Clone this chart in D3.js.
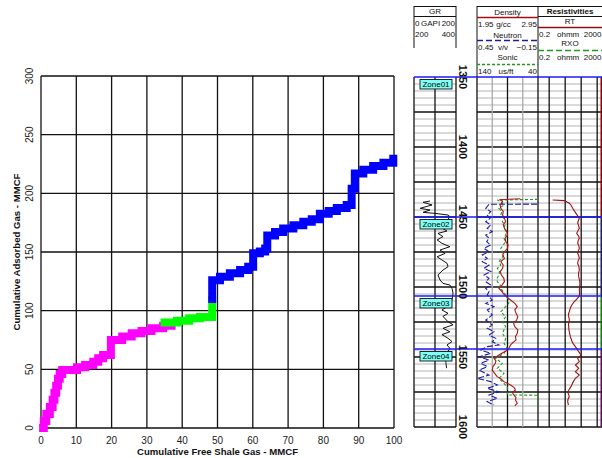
<!DOCTYPE html>
<html>
<head>
<meta charset="utf-8">
<script src="https://cdn.jsdelivr.net/npm/d3@7"></script>
<style>
  html, body { margin: 0; padding: 0; background: #fff; }
  svg { display: block; font-family: "Liberation Sans", Arial, Helvetica, sans-serif; }
</style>
</head>
<body>
<svg id="chart" width="602" height="458"></svg>
<script>
// ---------- Crossplot: cumulative free vs adsorbed gas ----------
const freeTicks = [0, 10, 20, 30, 40, 50, 60, 70, 80, 90, 100];
const adsorbedTicks = [0, 50, 100, 150, 200, 250, 300];

// Three intervals of the cumulative curve
const freeGasUpper = [0.6, 0.8, 1.5, 2.5, 3.3, 3.8, 4.3, 4.8, 5.3, 6.0, 10.2, 12.5, 14.8, 16.2, 17.6, 19.8, 19.8, 23.0, 25.7, 28.5, 31.3, 34.6, 37.0];
const adsorbedGasUpper = [0, 6, 12, 18, 24, 30, 36, 42, 46, 49.4, 51.7, 53.7, 56.5, 59.4, 62.2, 65, 75, 78, 80.7, 82.7, 85, 87.2, 88];

const freeGasMiddle = [35.0, 38.5, 42.0, 45.0, 48.5, 48.5];
const adsorbedGasMiddle = [90, 91.5, 93.5, 94.5, 95, 109];

const freeGasLower = [48.5, 48.5, 50.7, 53.5, 56.4, 58.7, 60.1, 60.1, 62.0, 63.5, 64.1, 64.1, 66.3, 68.6, 71.5, 74.3, 76.7, 79.0, 81.5, 83.8, 86.6, 88.0, 88.0, 88.9, 88.9, 91.3, 94.1, 97.0, 99.8];
const adsorbedGasLower = [110, 126, 129, 131.8, 134.7, 137.5, 141, 149, 150.4, 153, 156, 164, 167, 170, 172.8, 175.7, 178, 182.5, 185, 187.5, 190, 192, 204, 210, 217, 220, 223.3, 226, 229.5];

const segmentColors = ["#ff00ff", "#00ff00", "#0000ff"];

// ---------- Well log panel ----------
const depthTicks = [1350, 1400, 1450, 1500, 1550, 1600];
const zoneNames = ["Zone01", "Zone02", "Zone03", "Zone04"];
const zoneTops = [1350, 1450, 1506.4, 1544.3];
const zoneStripColors = ["#8b0000", "#1e1e5e", "#0b7a0b", "#5e0b5e"];

const grDepth = [1438.6, 1439.5, 1441.4, 1443.8, 1445.0, 1446.7, 1447.4, 1448.6, 1449.8, 1452.0, 1455.7, 1458.0, 1460.0, 1461.7, 1464.0, 1466.4, 1468.8, 1471.2, 1473.6, 1476.0, 1478.4, 1480.7, 1483.0, 1485.5, 1487.9, 1491.4, 1495.0, 1497.4, 1498.6, 1501.0, 1504.5, 1509.0, 1513.0, 1516.4, 1518.8, 1521.0, 1524.8, 1527.0, 1529.5, 1532.0, 1534.0, 1536.6, 1539.0, 1541.4, 1543.8, 1548.6, 1554.0, 1558.0];
const grValue = [76, 43, 86, 29, 76, 43, 100, 162, 171, 160, 150, 133, 157, 114, 138, 110, 133, 171, 124, 148, 110, 133, 157, 162, 138, 114, 124, 138, 171, 181, 186, 181, 171, 133, 162, 138, 162, 186, 138, 171, 133, 162, 181, 157, 171, 150, 152, 155];

const rhobDepth = [1437.0, 1437.6, 1439.0, 1441.5, 1443.8, 1446.0, 1448.6, 1451.0, 1453.3, 1455.5, 1458.1, 1460.5, 1462.9, 1465.2, 1467.6, 1470.0, 1472.4, 1474.8, 1477.1, 1479.5, 1481.9, 1484.3, 1486.7, 1489.0, 1491.4, 1493.8, 1496.2, 1498.6, 1501.0, 1503.3, 1505.7, 1507.5, 1509.3, 1511.7, 1514.0, 1516.4, 1518.8, 1521.2, 1523.6, 1526.0, 1528.3, 1530.7, 1533.0, 1535.5, 1537.9, 1540.0, 1541.4, 1543.2, 1545.0, 1546.8, 1548.6, 1551.0, 1552.8, 1554.5, 1557.0, 1559.3, 1561.7, 1564.0, 1565.8, 1567.6, 1570.0, 1571.8, 1573.6, 1575.3, 1577.0, 1579.0, 1580.7, 1583.0, 1585.0];
const rhobValue = [2.66, 2.33, 2.37, 2.33, 2.34, 2.38, 2.37, 2.40, 2.42, 2.38, 2.40, 2.44, 2.45, 2.41, 2.42, 2.46, 2.45, 2.40, 2.37, 2.40, 2.34, 2.38, 2.37, 2.33, 2.35, 2.39, 2.40, 2.36, 2.31, 2.36, 2.40, 2.45, 2.50, 2.57, 2.61, 2.57, 2.59, 2.62, 2.60, 2.55, 2.57, 2.62, 2.61, 2.58, 2.59, 2.53, 2.50, 2.48, 2.45, 2.38, 2.31, 2.23, 2.26, 2.25, 2.21, 2.20, 2.24, 2.28, 2.35, 2.39, 2.50, 2.56, 2.58, 2.53, 2.55, 2.59, 2.58, 2.61, 2.57];

const nphiDepth = [1440.8, 1440.9, 1443.8, 1446.2, 1448.6, 1451.0, 1453.3, 1455.7, 1458.1, 1460.5, 1462.9, 1465.2, 1467.6, 1470.0, 1472.4, 1474.8, 1477.1, 1479.5, 1481.9, 1484.3, 1486.7, 1489.0, 1491.4, 1493.8, 1496.2, 1498.6, 1501.0, 1503.3, 1505.7, 1508.1, 1509.3, 1511.7, 1514.0, 1516.4, 1520.0, 1523.6, 1527.2, 1529.5, 1531.9, 1534.3, 1536.7, 1539.1, 1541.4, 1542.6, 1545.0, 1547.4, 1549.8, 1552.2, 1554.5, 1556.9, 1559.3, 1562.9, 1565.3, 1567.6, 1570.0, 1572.4, 1574.8, 1577.2, 1579.5, 1581.9, 1584.3];
const nphiValue = [-0.14, 0.332, 0.364, 0.315, 0.349, 0.322, 0.364, 0.315, 0.349, 0.300, 0.364, 0.332, 0.355, 0.315, 0.381, 0.332, 0.398, 0.349, 0.398, 0.332, 0.381, 0.315, 0.381, 0.332, 0.364, 0.315, 0.364, 0.332, 0.349, 0.315, 0.300, 0.364, 0.283, 0.349, 0.300, 0.364, 0.300, 0.349, 0.283, 0.332, 0.266, 0.300, 0.234, 0.349, 0.414, 0.315, 0.430, 0.332, 0.414, 0.349, 0.430, 0.332, 0.447, 0.315, 0.250, 0.349, 0.234, 0.332, 0.250, 0.349, 0.283];

const dtDepth = [1437.4, 1437.9, 1439.1, 1441.4, 1443.8, 1446.2, 1448.6, 1451.0, 1453.3, 1455.7, 1458.1, 1460.5, 1462.9, 1465.2, 1467.6, 1470.0, 1472.4, 1474.8, 1477.1, 1479.5, 1481.9, 1484.3, 1486.7, 1489.0, 1491.4, 1493.8, 1496.2, 1498.6, 1501.0, 1503.3, 1505.7, 1509.3, 1511.7, 1514.0, 1517.6, 1521.2, 1524.8, 1528.3, 1533.1, 1536.7, 1540.3, 1543.8, 1547.4, 1551.0, 1554.5, 1558.1, 1561.7, 1565.3, 1568.8, 1571.7, 1576.0, 1577.1, 1577.3, 1585.8];
const dtValue = [40, 106.7, 101, 95.7, 104, 99.5, 101, 96, 98.5, 94, 95.7, 92, 93, 96, 93, 97, 101, 98, 95.7, 100, 104, 101, 106.7, 103, 104, 107, 106.7, 102, 101, 97, 93, 88, 88, 93, 101, 93, 98.5, 93, 98.5, 93, 95.7, 90.3, 95.7, 109.3, 98.5, 106.7, 95.7, 104, 95.7, 90.3, 90.3, 90.3, 40, 40];

const rtDepth = [1437.9, 1438.3, 1440.2, 1441.4, 1443.8, 1447.4, 1450.9, 1452.7, 1454.5, 1456.3, 1458.1, 1460.0, 1461.7, 1463.5, 1465.2, 1467.0, 1468.8, 1470.6, 1472.4, 1474.2, 1475.9, 1477.7, 1479.5, 1481.3, 1483.1, 1485.5, 1487.9, 1490.2, 1492.6, 1495.0, 1497.4, 1499.8, 1502.1, 1504.3, 1506.4, 1508.5, 1510.5, 1512.3, 1514.0, 1515.8, 1517.6, 1519.4, 1521.2, 1523.0, 1524.8, 1526.5, 1528.3, 1530.1, 1531.9, 1533.7, 1535.5, 1537.3, 1539.0, 1540.8, 1542.6, 1544.4, 1546.2, 1548.6, 1551.0, 1553.3, 1555.7, 1558.1, 1560.5, 1562.9, 1565.2, 1567.6, 1569.4, 1571.2, 1573.0, 1574.8, 1576.5, 1578.3, 1580.1, 1581.9, 1584.3];
const rtValue = [1.66, 8.8, 18.1, 23, 29.5, 47.5, 76.3, 66, 60.3, 70, 76.3, 62, 52.5, 68, 76.3, 64, 60.3, 72, 76.3, 66, 60.3, 70, 76.3, 64, 60.3, 72, 76.3, 68, 69.8, 78, 84.3, 80, 76.3, 80, 76.3, 55, 37.2, 28, 23.1, 20, 18.1, 16, 16.6, 18, 18.1, 16, 16.6, 17, 18.1, 19.5, 21, 24, 26.7, 33, 43.5, 55, 69.8, 97.5, 60.3, 76.3, 43.5, 69.8, 43.5, 76.3, 43.5, 32.3, 27, 23.1, 18, 14.4, 16, 18.1, 15, 14.4, 15.8];

const svg = d3.select("#chart");

// ================= Crossplot =================
const x = d3.scaleLinear().domain([0, 100]).range([41, 394]);
const y = d3.scaleLinear().domain([0, 300]).range([428, 76]);

const cp = svg.append("g");
cp.append("g").selectAll("line").data(freeTicks).join("line")
  .attr("x1", d => x(d)).attr("x2", d => x(d))
  .attr("y1", y(0)).attr("y2", y(300))
  .attr("stroke", "#111").attr("stroke-width", 1.3);
cp.append("g").selectAll("line").data(adsorbedTicks).join("line")
  .attr("x1", x(0)).attr("x2", x(100))
  .attr("y1", d => y(d)).attr("y2", d => y(d))
  .attr("stroke", "#111").attr("stroke-width", 1.3);

cp.append("g").selectAll("text").data(freeTicks).join("text")
  .attr("x", d => x(d)).attr("y", 444)
  .attr("text-anchor", "middle").attr("font-size", "10px").attr("fill", "#222")
  .text(d => d);
cp.append("g").selectAll("text").data(adsorbedTicks).join("text")
  .attr("transform", d => `translate(33,${y(d)}) rotate(-90)`)
  .attr("text-anchor", "middle").attr("font-size", "10px").attr("fill", "#222")
  .text(d => d);

cp.append("text").attr("x", (x(0) + x(100)) / 2).attr("y", 455)
  .attr("text-anchor", "middle").attr("font-size", "9.6px").attr("font-weight", "bold").attr("fill", "#111")
  .text("Cumulative Free Shale Gas - MMCF");
cp.append("text").attr("transform", `translate(19.5,${(y(0) + y(300)) / 2}) rotate(-90)`)
  .attr("text-anchor", "middle").attr("font-size", "9.6px").attr("font-weight", "bold").attr("fill", "#111")
  .text("Cumulative Adsorbed Gas - MMCF");

const segments = [
  [freeGasUpper, adsorbedGasUpper],
  [freeGasMiddle, adsorbedGasMiddle],
  [freeGasLower, adsorbedGasLower]
];
const stepLine = d3.line().curve(d3.curveStepAfter);
segments.forEach(([fx, ay], k) => {
  const pts = fx.map((v, i) => [x(v), y(ay[i])]);
  cp.append("path").attr("d", stepLine(pts))
    .attr("fill", "none").attr("stroke", segmentColors[k])
    .attr("stroke-width", 8).attr("stroke-linejoin", "miter").attr("stroke-linecap", "square");
});

// ================= Log panel =================
const depth = d3.scaleLinear().domain([1350, 1600]).range([77, 427]);
const grX = d3.scaleLinear().domain([0, 200]).range([414, 456]);
const rhobX = d3.scaleLinear().domain([1.95, 2.95]).range([477, 538]);
const nphiX = d3.scaleLinear().domain([0.45, -0.15]).range([477, 538]);
const dtX = d3.scaleLinear().domain([140, 40]).range([477, 538]);
const resX = d3.scaleLog().domain([0.2, 2000]).range([538, 602]);

const lp = svg.append("g");
const fine = d3.range(1355, 1600, 5).filter(d => d % 25 !== 0);
const coarse = d3.range(1375, 1601, 25);

// horizontal depth grid in GR track and in the two curve tracks
[[414, 456], [477, 602]].forEach(([a, b]) => {
  lp.append("g").selectAll("line").data(fine).join("line")
    .attr("x1", a).attr("x2", b).attr("y1", d => depth(d)).attr("y2", d => depth(d))
    .attr("stroke", "#b4b4b4").attr("stroke-width", 1);
  lp.append("g").selectAll("line").data(coarse).join("line")
    .attr("x1", a).attr("x2", b).attr("y1", d => depth(d)).attr("y2", d => depth(d))
    .attr("stroke", "#111").attr("stroke-width", 1.3);
});

// vertical grid
const vBlack = [414, grX(100), 456, 477, rhobX(2.45), 538, resX(1), resX(10), resX(100), resX(1000)];
const vGray = [rhobX(2.2), rhobX(2.7)];
lp.append("g").selectAll("line").data(vGray).join("line")
  .attr("x1", d => d).attr("x2", d => d).attr("y1", depth(1350)).attr("y2", depth(1600))
  .attr("stroke", "#a8a8a8").attr("stroke-width", 1.3);
lp.append("g").selectAll("line").data(vBlack).join("line")
  .attr("x1", d => d).attr("x2", d => d).attr("y1", depth(1350)).attr("y2", depth(1600))
  .attr("stroke", "#111").attr("stroke-width", 1.3);

// zone colour strip along the right edge
zoneTops.forEach((t, i) => {
  const bottom = i < zoneTops.length - 1 ? zoneTops[i + 1] : 1600;
  lp.append("rect").attr("x", 600.5).attr("width", 1.5)
    .attr("y", depth(t)).attr("height", depth(bottom) - depth(t))
    .attr("fill", zoneStripColors[i]);
});

// curves
const curve = (dep, val, sx) => d3.line().x((d, i) => sx(val[i])).y((d, i) => depth(dep[i]))(dep);
lp.append("path").attr("d", curve(grDepth, grValue, grX))
  .attr("fill", "none").attr("stroke", "#111").attr("stroke-width", 1);
lp.append("path").attr("d", curve(dtDepth, dtValue, dtX))
  .attr("fill", "none").attr("stroke", "#1f9a1f").attr("stroke-width", 1.1).attr("stroke-dasharray", "3,2");
lp.append("path").attr("d", curve(nphiDepth, nphiValue, nphiX))
  .attr("fill", "none").attr("stroke", "#1c1ca8").attr("stroke-width", 1.1).attr("stroke-dasharray", "6,2");
lp.append("path").attr("d", curve(rhobDepth, rhobValue, rhobX))
  .attr("fill", "none").attr("stroke", "#b01515").attr("stroke-width", 1.1);
lp.append("path").attr("d", curve(rtDepth, rtValue, resX))
  .attr("fill", "none").attr("stroke", "#a01010").attr("stroke-width", 1.1);

// zone tops and labels
zoneTops.forEach((t, i) => {
  lp.append("line").attr("x1", 414).attr("x2", 602)
    .attr("y1", depth(t)).attr("y2", depth(t))
    .attr("stroke", "#1a1aff").attr("stroke-width", 1.6);
  const g = lp.append("g").attr("transform", `translate(420,${depth(t) + 2.5})`);
  g.append("rect").attr("width", 32).attr("height", 9.5)
    .attr("fill", "#80fff4").attr("stroke", "#111").attr("stroke-width", 0.9);
  g.append("text").attr("x", 16).attr("y", 7.8).attr("text-anchor", "middle")
    .attr("font-size", "8px").attr("fill", "#000").text(zoneNames[i]);
});

// depth labels
lp.append("g").selectAll("text").data(depthTicks).join("text")
  .attr("transform", d => `translate(459,${depth(d)}) rotate(90)`)
  .attr("text-anchor", "middle").attr("font-size", "11px").attr("font-weight", "bold").attr("fill", "#111")
  .text(d => d);

// ---------- track headers ----------
const hd = svg.append("g").attr("font-size", "8px").attr("fill", "#111");
const hline = (x1, x2, yy, color, w, dash) => {
  const l = hd.append("line").attr("x1", x1).attr("x2", x2).attr("y1", yy).attr("y2", yy)
    .attr("stroke", color).attr("stroke-width", w);
  if (dash) l.attr("stroke-dasharray", dash);
};
const vline = (xx, y1, y2) => hd.append("line").attr("x1", xx).attr("x2", xx).attr("y1", y1).attr("y2", y2)
  .attr("stroke", "#111").attr("stroke-width", 1);
const label = (xx, yy, t, anchor, bold) => hd.append("text").attr("x", xx).attr("y", yy)
  .attr("text-anchor", anchor || "middle").attr("font-weight", bold ? "bold" : null).text(t);

// GR header
hline(414, 456, 6.5, "#111", 1);
vline(414, 6, 48); vline(456, 6, 48);
label(435, 14, "GR");
hline(414, 456, 16.5, "#111", 1);
label(415, 26, "0", "start"); label(421, 26, "GAPI", "start"); label(455, 26, "200", "end");
label(415, 37, "200", "start"); label(455, 37, "400", "end");

// Density / Neutron / Sonic header
hline(477, 602, 6.5, "#111", 1);
vline(477, 6, 77); vline(538, 6, 77);
label(507.5, 15, "Density");
hline(477, 538, 17.5, "#a01010", 1.5);
label(478, 27, "1.95", "start"); label(503.5, 27, "g/cc"); label(537, 27, "2.95", "end");
label(507.5, 38, "Neutron");
hline(477, 538, 40.5, "#1c1c9a", 1.4, "6,3");
label(478, 50, "0.45", "start"); label(503, 50, "v/v"); label(537, 50, "\u22120.15", "end");
label(507.5, 60, "Sonic");
hline(477, 538, 64.5, "#1f9a1f", 1.4, "3,2");
label(478, 73.5, "140", "start"); label(506, 73.5, "us/ft"); label(537, 73.5, "40", "end");

// Resistivity header
label(570, 14, "Resistivities", "middle", true);
hline(538, 602, 16.5, "#111", 1);
label(570, 24, "RT");
hline(538, 602, 27.5, "#8b1010", 1.5);
label(539, 37, "0.2", "start"); label(557, 37, "ohmm", "start"); label(601.5, 37, "2000", "end");
label(570, 46, "RXO");
hline(538, 602, 50.5, "#1f9a1f", 1.4, "6,3");
label(539, 60, "0.2", "start"); label(557, 60, "ohmm", "start"); label(601.5, 60, "2000", "end");
</script>
</body>
</html>
